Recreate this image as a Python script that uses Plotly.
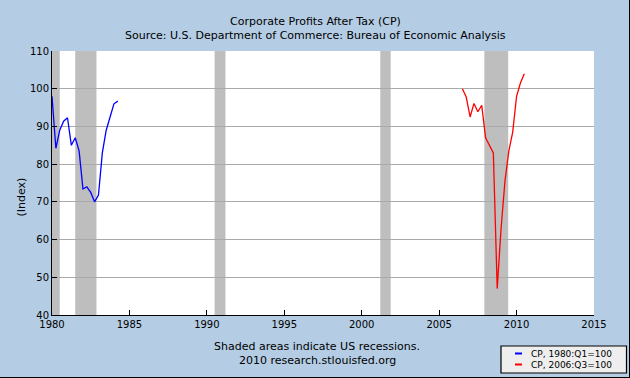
import plotly.graph_objects as go

# ---- data ----
blue_start = 1980.0
blue_values = [98.0, 84.2, 89.0, 91.4, 92.3, 85.0, 87.0, 83.5, 73.4, 74.0,
               72.5, 70.0, 71.8, 83.0, 89.0, 92.3, 96.0, 96.7]
red_start = 2006.5
red_values = [100.0, 97.8, 92.5, 96.1, 93.9, 95.6, 87.0, 84.8, 83.0, 47.0,
              63.0, 75.5, 83.5, 88.5, 98.0, 101.5, 104.0]
blue_x = [blue_start + 0.25 * i for i in range(len(blue_values))]
red_x = [red_start + 0.25 * i for i in range(len(red_values))]

recession_starts = [1980.0, 1981.5, 1990.5, 2001.2, 2007.92]
recession_ends = [1980.5, 1982.87, 1991.2, 2001.87, 2009.46]

series_names = ["CP, 1980:Q1=100", "CP, 2006:Q3=100"]
series_colors = ["#0000FF", "#FF0000"]
x_ticks = [1980, 1985, 1990, 1995, 2000, 2005, 2010, 2015]
y_ticks = [40, 50, 60, 70, 80, 90, 100, 110]

FONT = "DejaVu Sans"
W, H = 630, 378
L, R, T, B = 52, 36, 51, 63
pw, ph = W - L - R, H - T - B


def px_x(x):
    return (x - L) / pw


def px_y(y):
    return (H - B - y) / ph


fig = go.Figure()
for xs, ys, name, col in [(blue_x, blue_values, series_names[0], series_colors[0]),
                          (red_x, red_values, series_names[1], series_colors[1])]:
    fig.add_trace(go.Scatter(x=xs, y=ys, mode="lines", name=name,
                             line=dict(color=col, width=1.3), showlegend=False))

shapes = []
for s, e in zip(recession_starts, recession_ends):
    shapes.append(dict(type="rect", xref="x", yref="paper", x0=s, x1=e, y0=0, y1=1,
                       fillcolor="#BEBEBE", line=dict(width=0), layer="between"))
# right / bottom dark edge of the image
shapes.append(dict(type="line", xref="paper", yref="paper",
                   x0=px_x(629.5), x1=px_x(629.5), y0=px_y(0), y1=px_y(378),
                   line=dict(color="#000000", width=1), layer="above"))
shapes.append(dict(type="line", xref="paper", yref="paper",
                   x0=px_x(0), x1=px_x(630), y0=px_y(377.5), y1=px_y(377.5),
                   line=dict(color="#000000", width=1), layer="above"))

# legend box (drawn to match the compact reference legend)
shapes.append(dict(type="rect", xref="paper", yref="paper",
                   x0=px_x(501), x1=px_x(626.5), y0=px_y(373), y1=px_y(346),
                   fillcolor="#EEEEEE", line=dict(color="#000000", width=1.2), layer="above"))
legend_rows = [353.5, 364.5]
annotations = []
for name, col, ry in zip(series_names, series_colors, legend_rows):
    shapes.append(dict(type="line", xref="paper", yref="paper",
                       x0=px_x(515), x1=px_x(522), y0=px_y(ry), y1=px_y(ry),
                       line=dict(color=col, width=2), layer="above"))
    annotations.append(dict(text=name, xref="paper", yref="paper", x=px_x(529), y=px_y(ry),
                            xanchor="left", yanchor="middle", showarrow=False,
                            font=dict(family=FONT, size=9, color="#000")))

annotations += [
    dict(text="Corporate Profits After Tax (CP)", xref="paper", yref="paper",
         x=px_x(315), y=px_y(13), showarrow=False, font=dict(family=FONT, size=11, color="#000")),
    dict(text="Source: U.S. Department of Commerce: Bureau of Economic Analysis", xref="paper", yref="paper",
         x=px_x(315), y=px_y(27), showarrow=False, font=dict(family=FONT, size=11, color="#000")),
    dict(text="(Index)", xref="paper", yref="paper", x=px_x(12), y=px_y(197), textangle=-90,
         showarrow=False, font=dict(family=FONT, size=11, color="#000")),
    dict(text="Shaded areas indicate US recessions.", xref="paper", yref="paper",
         x=px_x(317), y=px_y(355), showarrow=False, font=dict(family=FONT, size=11, color="#000")),
    dict(text="2010 research.stlouisfed.org", xref="paper", yref="paper",
         x=px_x(317), y=px_y(369), showarrow=False, font=dict(family=FONT, size=11, color="#000")),
]

fig.update_layout(
    width=W, height=H,
    margin=dict(l=L, r=R, t=T, b=B, pad=0),
    paper_bgcolor="#B4CDE4", plot_bgcolor="#FFFFFF",
    font=dict(family=FONT, size=10, color="#000000"),
    showlegend=False,
    shapes=shapes, annotations=annotations,
    xaxis=dict(range=[1980, 2015], tickvals=x_ticks, ticktext=[str(v) for v in x_ticks],
               showgrid=False, zeroline=False, showline=True, linecolor="#000", linewidth=1,
               ticks="inside", ticklen=5, tickcolor="#000", tickfont=dict(size=10)),
    yaxis=dict(range=[40, 110], tickvals=y_ticks, ticktext=[str(v) for v in y_ticks],
               showgrid=True, gridcolor="#AAAAAA", gridwidth=1, zeroline=False,
               showline=True, linecolor="#000", linewidth=1,
               ticks="inside", ticklen=5, tickcolor="#000", tickfont=dict(size=10)),
)

fig.write_html("out.html", config={"displayModeBar": False},
               post_script="document.body.style.margin='0';")
